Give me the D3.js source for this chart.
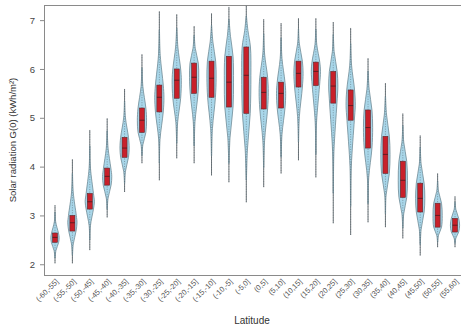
<!DOCTYPE html>
<html>
<head>
<meta charset="utf-8">
<script src="https://cdn.jsdelivr.net/npm/d3@7"></script>
<style>
  body { margin: 0; background: #fff; }
  svg { font-family: "Liberation Sans", Arial, sans-serif; }
  .axis path, .axis line { stroke: #8a8a8a; }
  .axis text { fill: #444; }
</style>
</head>
<body>
<svg id="chart" width="461" height="330"></svg>
<script>
// Latitude bands
const bands = ['(-60,-55]','(-55,-50]','(-50,-45]','(-45,-40]','(-40,-35]','(-35,-30]',
  '(-30,-25]','(-25,-20]','(-20,-15]','(-15,-10]','(-10,-5]','(-5,0]',
  '(0,5]','(5,10]','(10,15]','(15,20]','(20,25]','(25,30]',
  '(30,35]','(35,40]','(40,45]','(45,50]','(50,55]','(55,60]'];

// Five-number summaries, kWh/m2
const minV = [2.02,2.02,2.29,2.96,3.48,4.07,3.72,4.17,4.07,3.82,3.68,3.27,
              3.58,3.86,4.13,3.78,2.84,2.60,2.86,2.76,2.53,2.18,2.35,2.35];
const q1V  = [2.45,2.68,3.13,3.62,4.19,4.70,5.12,5.40,5.50,5.42,5.22,5.09,
              5.18,5.20,5.63,5.66,5.30,4.95,4.38,3.86,3.37,3.07,2.76,2.66];
const medV = [2.55,2.85,3.28,3.80,4.38,4.95,5.42,5.77,5.83,5.81,5.73,5.87,
              5.52,5.50,5.91,5.95,5.65,5.25,4.80,4.25,3.72,3.35,3.00,2.80];
const q3V  = [2.64,3.00,3.45,3.97,4.60,5.20,5.67,6.00,6.12,6.16,6.26,6.45,
              5.83,5.73,6.16,6.14,5.95,5.57,5.16,4.62,4.11,3.66,3.25,2.94];
const maxV = [3.21,4.15,4.75,4.99,5.59,6.30,7.18,7.12,6.88,7.14,7.27,7.30,
              7.02,6.94,7.04,7.04,6.96,6.84,6.22,5.71,5.09,4.64,3.86,3.39];

// Relative density at lower tail, q1, median, q3, upper tail
const density = [
  [0.2,0.8,0.9,0.75,0.15],[0.2,0.8,1.0,0.85,0.2],[0.15,0.8,1.0,0.8,0.15],[0.2,0.85,1.0,0.8,0.2],
  [0.2,0.85,1.0,0.85,0.2],[0.2,0.85,1.0,0.85,0.2],[0.15,0.85,1.0,0.85,0.2],[0.2,0.85,1.0,0.85,0.25],
  [0.2,0.85,1.0,0.9,0.25],[0.2,0.85,1.0,0.9,0.3],[0.25,0.9,1.0,0.9,0.35],[0.25,0.85,1.0,0.9,0.35],
  [0.2,0.85,1.0,0.85,0.2],[0.2,0.85,1.0,0.85,0.2],[0.2,0.85,1.0,0.85,0.2],[0.15,0.8,1.0,0.85,0.2],
  [0.15,0.8,1.0,0.85,0.2],[0.15,0.8,1.0,0.85,0.2],[0.15,0.85,1.0,0.85,0.25],[0.15,0.85,1.0,0.85,0.25],
  [0.2,0.85,1.0,0.85,0.2],[0.2,0.85,1.0,0.85,0.2],[0.2,0.85,1.0,0.85,0.2],[0.2,0.8,1.0,0.8,0.2]
];

const yTicks = [2, 3, 4, 5, 6, 7];

const data = bands.map((b, i) => ({
  band: b, min: minV[i], q1: q1V[i], med: medV[i], q3: q3V[i], max: maxV[i], dens: density[i]
}));

const svg = d3.select('#chart');
const plotL = 44, plotT = 5, plotB = 275, plotR = 461;

const x = d3.scalePoint().domain(bands).range([55, 455]);
const y = d3.scaleLinear().domain([1.78, 7.31]).range([plotB, plotT]);
const w = d3.scaleLinear().domain([0, 1]).range([0, 4.6]);

// frame: top line, left and bottom axes
svg.append('line')
  .attr('x1', plotL).attr('x2', plotR).attr('y1', plotT + 0.5).attr('y2', plotT + 0.5)
  .attr('stroke', '#8a8a8a');

const yAxis = svg.append('g')
  .attr('class', 'axis')
  .attr('transform', `translate(${plotL},0)`)
  .call(d3.axisLeft(y).tickValues(yTicks).tickFormat(d3.format('d'))
    .tickSize(4).tickSizeOuter(0).tickPadding(5));
yAxis.selectAll('text').attr('font-size', 9.5);

svg.append('line')
  .attr('x1', plotL).attr('x2', plotR).attr('y1', plotB + 0.5).attr('y2', plotB + 0.5)
  .attr('stroke', '#8a8a8a');

// rotated band labels
svg.append('g').selectAll('text')
  .data(bands)
  .join('text')
  .attr('transform', d => `translate(${x(d) + 4},${plotB + 7}) rotate(-45)`)
  .attr('text-anchor', 'end')
  .attr('font-size', 7.5)
  .attr('fill', '#555')
  .text(d => d);

svg.append('text')
  .attr('x', 252).attr('y', 324)
  .attr('text-anchor', 'middle')
  .attr('font-size', 10)
  .attr('fill', '#333')
  .text('Latitude');

svg.append('text')
  .attr('transform', `translate(16,${(plotT + plotB) / 2}) rotate(-90)`)
  .attr('text-anchor', 'middle')
  .attr('font-size', 9.5)
  .attr('fill', '#333')
  .text('Solar radiation G(0) (kWh/m²)');

// violin outline points along value axis
function profile(d) {
  const lo = d.q1 - 0.4 * (d.q1 - d.min);
  const hi = d.q3 + 0.4 * (d.max - d.q3);
  const loEnd = d.q1 - 0.75 * (d.q1 - d.min);
  const hiEnd = d.q3 + 0.75 * (d.max - d.q3);
  return [
    [loEnd, 0.03], [lo, d.dens[0]], [d.q1, d.dens[1]], [d.med, d.dens[2]],
    [d.q3, d.dens[3]], [hi, d.dens[4]], [hiEnd, 0.03]
  ];
}

const area = d3.area()
  .curve(d3.curveCatmullRom)
  .y(p => y(p[0]))
  .x0(p => -w(p[1]))
  .x1(p => w(p[1]));

const g = svg.append('g').selectAll('g')
  .data(data)
  .join('g')
  .attr('transform', d => `translate(${x(d.band)},0)`);

// whisker / raw point trail
g.append('line')
  .attr('y1', d => y(d.min)).attr('y2', d => y(d.max))
  .attr('stroke', '#70787d').attr('stroke-width', 1);

g.append('path')
  .attr('d', d => area(profile(d)))
  .attr('fill', '#a9d7ea')
  .attr('stroke', '#6f8a96')
  .attr('stroke-width', 0.8);

g.append('line')
  .attr('y1', d => y(d.min)).attr('y2', d => y(d.max))
  .attr('stroke', '#4f5a60').attr('stroke-width', 0.7)
  .attr('stroke-dasharray', '1,1.5').attr('opacity', 0.7);

g.append('rect')
  .attr('x', -2.5).attr('width', 5)
  .attr('y', d => y(d.q3))
  .attr('height', d => y(d.q1) - y(d.q3))
  .attr('fill', '#c8202a')
  .attr('stroke', '#5a2a2e')
  .attr('stroke-width', 0.6);

g.append('line')
  .attr('x1', -2.5).attr('x2', 2.5)
  .attr('y1', d => y(d.med)).attr('y2', d => y(d.med))
  .attr('stroke', '#3a1a1c').attr('stroke-width', 0.7);
</script>
</body>
</html>
